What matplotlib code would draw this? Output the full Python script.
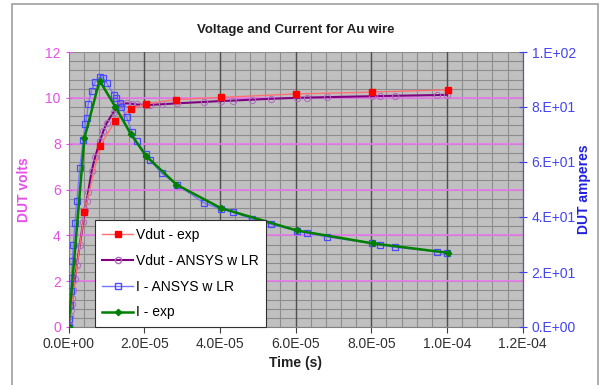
import numpy as np
import matplotlib
matplotlib.use("Agg")
import matplotlib.pyplot as plt
from matplotlib.lines import Line2D
from matplotlib.patches import Rectangle

plt.rcParams['font.family'] = ['Liberation Sans', 'DejaVu Sans']

# times in microseconds
t_vexp = [0, 4.2, 8.3, 12.4, 16.4, 20.5, 28.4, 40.4, 60.2, 80.2, 100.2]
v_exp = [0, 5.0, 7.9, 9.0, 9.5, 9.75, 9.92, 10.02, 10.17, 10.25, 10.35]

t_ansys = [0, 0.2, 0.4, 0.6, 0.8, 1.0, 1.3, 1.7, 2.2, 3.0, 3.9, 4.4, 4.8, 5.2,
           6.1, 7.0, 8.3, 9.2, 10.1, 12.0, 12.5, 13.6, 14.0, 15.4, 16.7, 18.0,
           20.5, 21.5, 24.6, 28.6, 35.7, 40.3, 43.4, 48.5, 53.6, 60.3, 62.9,
           68.2, 80.1, 82.3, 86.3, 97.3, 99.9]
v_ansys = [0, 0.25, 0.5, 0.75, 1.0, 1.25, 1.6, 2.1, 2.7, 3.6, 4.6, 5.1, 5.5, 5.9,
           6.8, 7.4, 8.1, 8.55, 8.9, 9.4, 9.5, 9.68, 9.72, 9.76, 9.74, 9.71,
           9.69, 9.69, 9.72, 9.76, 9.82, 9.86, 9.88, 9.92, 9.96, 10.0, 10.01,
           10.03, 10.07, 10.08, 10.09, 10.12, 10.13]
i_ansys = [0, 3, 8, 13, 18, 24, 30, 38, 46, 58, 68, 74, 76, 81,
           86, 89, 91, 90.5, 88.8, 84.4, 83.2, 81.3, 80.1, 76.2, 71.0, 67.5,
           62.9, 60.7, 55.9, 51.8, 45.2, 42.8, 41.9, 39.2, 37.3, 35.0, 34.2,
           32.8, 30.4, 29.8, 29.0, 27.4, 27.0]

t_iexp = [0, 4.2, 8.2, 12.4, 16.4, 20.5, 28.5, 40.3, 60.3, 80.4, 100.2]
i_exp = [0, 68.7, 89.6, 80.0, 70.3, 62.2, 51.8, 43.2, 35.1, 30.4, 27.0]

x_ticks = [0, 2e-5, 4e-5, 6e-5, 8e-5, 1e-4, 1.2e-4]
x_labels = ['0.0E+00', '2.0E-05', '4.0E-05', '6.0E-05', '8.0E-05', '1.0E-04', '1.2E-04']
v_ticks = [0, 2, 4, 6, 8, 10, 12]
i_ticks = [0, 20, 40, 60, 80, 100]
i_labels = ['0.E+00', '2.E+01', '4.E+01', '6.E+01', '8.E+01', '1.E+02']

us = 1e-6
pink = '#e650e6'
blue = '#3a3ae8'

fig = plt.figure(figsize=(6.08, 3.85), dpi=100)
ax = fig.add_axes([68.5 / 608, 1 - 327 / 385, 454.2 / 608, 275 / 385])
ax2 = ax.twinx()

ax.set_facecolor('#c0c0c0')
ax.set_xlim(0, 1.2e-4)
ax.set_ylim(0, 12)
ax2.set_ylim(0, 100)

# grid: grey minor, dark vertical majors, pink horizontal majors
for x in np.arange(0, 1.2e-4 + 1e-9, 4e-6):
    ax.axvline(x, color='#8c8c8c', lw=0.8, zorder=0.5)
for y in np.arange(0, 12.01, 0.4):
    ax.axhline(y, color='#8c8c8c', lw=0.8, zorder=0.5)
for x in x_ticks[1:-1]:
    ax.axvline(x, color='#505050', lw=1.0, zorder=0.6)
for y in v_ticks[1:-1]:
    ax.axhline(y, color='#e878ee', lw=1.2, zorder=0.7)

ax.plot(np.array(t_vexp) * us, v_exp, color='#ff7070', lw=1.0, marker='s',
        ms=4.5, mfc='#ff0000', mec='#ff0000', zorder=3)
ax.plot(np.array(t_ansys) * us, v_ansys, color='#800080', lw=1.5, marker='o',
        ms=4.5, mfc='none', mec='#b070c0', mew=0.8, zorder=2)
ax2.plot(np.array(t_ansys) * us, i_ansys, color='#7878ff', lw=1.0, marker='s',
         ms=5, mfc='none', mec='#4a4aff', mew=0.9, zorder=2)
ax2.plot(np.array(t_iexp) * us, i_exp, color='#008000', lw=1.8, marker='D',
         ms=3.2, mfc='#008000', mec='#008000', zorder=3)

ax.set_xticks(x_ticks)
ax.set_xticklabels(x_labels)
ax.set_yticks(v_ticks)
ax2.set_yticks(i_ticks)
ax2.set_yticklabels(i_labels)

ax.tick_params(axis='x', colors='#404040', labelsize=10, length=4, direction='out', labelcolor='#303030')
ax.tick_params(axis='y', colors=pink, labelsize=10, length=4, direction='inout', labelcolor=pink)
ax2.tick_params(axis='y', colors=blue, labelsize=10, length=6, direction='inout', labelcolor='#4444f0')

ax.spines['top'].set_visible(False)
ax2.spines['top'].set_visible(False)
ax.spines['left'].set_color('#808080')
ax.spines['bottom'].set_color('#808080')
ax2.spines['right'].set_color('#5050ff')
ax2.spines['left'].set_visible(False)
ax2.spines['bottom'].set_visible(False)

ax.set_xlabel('Time (s)', fontsize=10, fontweight='bold', color='#202020', labelpad=3)
ax.set_ylabel('DUT volts', fontsize=10, fontweight='bold', color=pink, labelpad=10)
ax2.set_ylabel('DUT amperes', fontsize=10, fontweight='bold', color='#2020e0', labelpad=1)
ax.set_title('Voltage and Current for Au wire', fontsize=9.5, fontweight='bold',
             color='#202020', pad=14)

handles = [
    Line2D([], [], color='#ff7070', lw=1.0, marker='s', ms=4.5, mfc='#ff0000', mec='#ff0000'),
    Line2D([], [], color='#800080', lw=1.5, marker='o', ms=4.5, mfc='none', mec='#b070c0'),
    Line2D([], [], color='#7878ff', lw=1.0, marker='s', ms=5, mfc='none', mec='#4a4aff'),
    Line2D([], [], color='#008000', lw=1.8, marker='D', ms=3.2, mfc='#008000', mec='#008000'),
]
labels = ['Vdut - exp', 'Vdut - ANSYS w LR', 'I - ANSYS w LR', 'I - exp']
leg = ax2.legend(handles, labels, loc='lower left', bbox_to_anchor=(0.058, 0.0),
                 borderaxespad=0, fontsize=10, frameon=True, fancybox=False,
                 framealpha=1, edgecolor='#303030', labelspacing=0.85,
                 handlelength=2.2, handletextpad=0.2, borderpad=0.55)
leg.get_frame().set_linewidth(0.8)

# outer chart border
fig.patches.append(Rectangle((12 / 608, -0.01), 586 / 608, 1 - 4 / 385 + 0.01,
                             transform=fig.transFigure, fill=False,
                             edgecolor='#a0a0a0', lw=1.2))

fig.savefig('out.png', dpi=100)
